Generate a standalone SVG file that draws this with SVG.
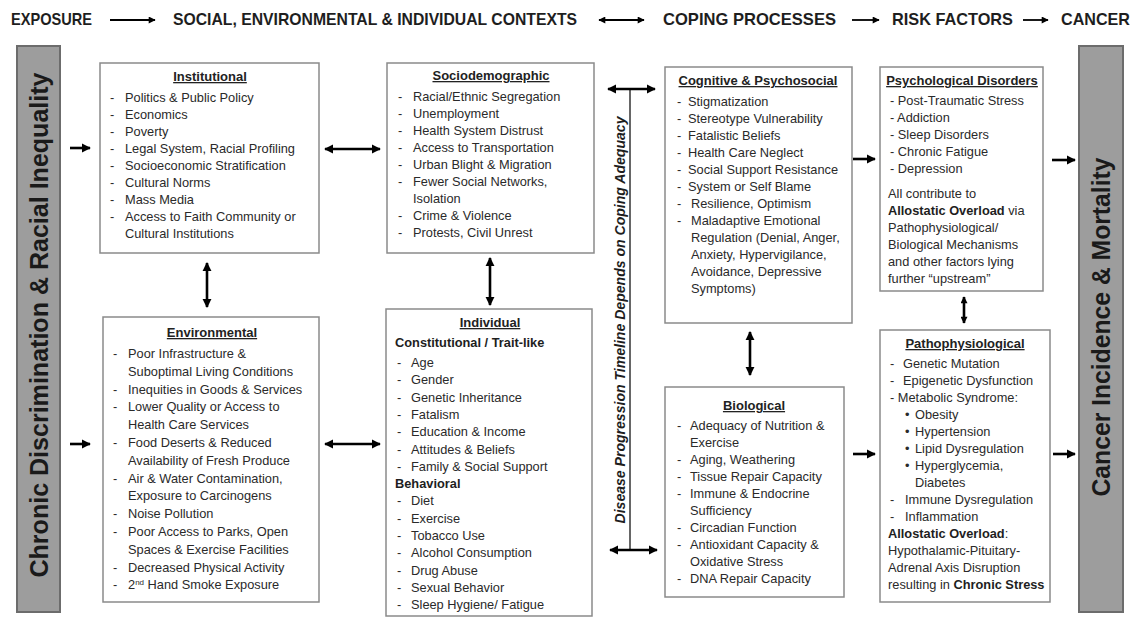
<svg xmlns="http://www.w3.org/2000/svg" width="1142" height="618" viewBox="0 0 1142 618" xml:space="preserve">
<style>
text{font-family:"Liberation Sans",Arial,sans-serif;font-size:12.8px;fill:#2a2a2a}
.h{font-weight:bold;text-decoration:underline;text-anchor:middle;font-size:13px;fill:#222}
.b{font-weight:bold;fill:#1e1e1e}
.hd{font-weight:bold;font-size:17px;fill:#1e1e1e}
.box{fill:#fff;stroke:#8a8a8a;stroke-width:1.5}
.bar{fill:#9d9d9d;stroke:#6c6c6c;stroke-width:2}
.bt{font-weight:bold;font-size:25px;text-anchor:middle;fill:#1a1a1a}
.tl{font-weight:bold;font-style:italic;font-size:14px;text-anchor:middle;fill:#1e1e1e}
.c{stroke:#000;stroke-width:2.6;fill:none}
.ch{stroke:#000;stroke-width:1.8;fill:none}
</style>
<defs>
<marker id="a" viewBox="0 0 10 10" refX="9" refY="5" markerUnits="userSpaceOnUse" markerWidth="9" markerHeight="10" orient="auto-start-reverse"><path d="M0,0 L10,5 L0,10 z" fill="#000"/></marker>
<marker id="s" viewBox="0 0 10 10" refX="9" refY="5" markerUnits="userSpaceOnUse" markerWidth="8" markerHeight="7" orient="auto-start-reverse"><path d="M0,0 L10,5 L0,10 z" fill="#000"/></marker>
</defs>
<rect width="1142" height="618" fill="#fff"/>

<g id="header">
<text class="hd" x="11" y="24.5" textLength="81" lengthAdjust="spacingAndGlyphs">EXPOSURE</text>
<text class="hd" x="173" y="24.5" textLength="404" lengthAdjust="spacingAndGlyphs">SOCIAL, ENVIRONMENTAL &amp; INDIVIDUAL CONTEXTS</text>
<text class="hd" x="663" y="24.5" textLength="173" lengthAdjust="spacingAndGlyphs">COPING PROCESSES</text>
<text class="hd" x="892" y="24.5" textLength="121" lengthAdjust="spacingAndGlyphs">RISK FACTORS</text>
<text class="hd" x="1061" y="24.5" textLength="69" lengthAdjust="spacingAndGlyphs">CANCER</text>
</g>

<g id="left-bar">
<rect class="bar" x="17" y="46" width="43" height="566"/>
<text class="bt" transform="translate(48,325) rotate(-90)" textLength="505" lengthAdjust="spacingAndGlyphs">Chronic Discrimination &amp; Racial Inequality</text>
</g>

<g id="right-bar">
<rect class="bar" x="1079" y="46" width="44" height="566"/>
<text class="bt" transform="translate(1110,327) rotate(-90)" textLength="339" lengthAdjust="spacingAndGlyphs">Cancer Incidence &amp; Mortality</text>
</g>

<g id="institutional">
<rect class="box" x="100" y="63" width="219" height="190"/>
<text class="h" x="210" y="81">Institutional</text>
<text x="110" y="102">-</text><text x="125" y="102">Politics &amp; Public Policy</text>
<text x="110" y="119">-</text><text x="125" y="119">Economics</text>
<text x="110" y="136">-</text><text x="125" y="136">Poverty</text>
<text x="110" y="153">-</text><text x="125" y="153">Legal System, Racial Profiling</text>
<text x="110" y="170">-</text><text x="125" y="170">Socioeconomic Stratification</text>
<text x="110" y="187">-</text><text x="125" y="187">Cultural Norms</text>
<text x="110" y="204">-</text><text x="125" y="204">Mass Media</text>
<text x="110" y="221">-</text><text x="125" y="221">Access to Faith Community or</text>
<text x="125" y="238">Cultural Institutions</text>
</g>

<g id="sociodemographic">
<rect class="box" x="387" y="63" width="207" height="190"/>
<text class="h" x="491" y="80">Sociodemographic</text>
<text x="398" y="101">-</text><text x="413" y="101">Racial/Ethnic Segregation</text>
<text x="398" y="118">-</text><text x="413" y="118">Unemployment</text>
<text x="398" y="135">-</text><text x="413" y="135">Health System Distrust</text>
<text x="398" y="152">-</text><text x="413" y="152">Access to Transportation</text>
<text x="398" y="169">-</text><text x="413" y="169">Urban Blight &amp; Migration</text>
<text x="398" y="186">-</text><text x="413" y="186">Fewer Social Networks,</text>
<text x="413" y="203">Isolation</text>
<text x="398" y="220">-</text><text x="413" y="220">Crime &amp; Violence</text>
<text x="398" y="237">-</text><text x="413" y="237">Protests, Civil Unrest</text>
</g>

<g id="cognitive-psychosocial">
<rect class="box" x="665" y="67" width="187" height="256"/>
<text class="h" x="758" y="85">Cognitive &amp; Psychosocial</text>
<text x="677" y="106">-</text><text x="688" y="106">Stigmatization</text>
<text x="677" y="123">-</text><text x="688" y="123">Stereotype Vulnerability</text>
<text x="677" y="140">-</text><text x="688" y="140">Fatalistic Beliefs</text>
<text x="677" y="157">-</text><text x="688" y="157">Health Care Neglect</text>
<text x="677" y="174">-</text><text x="688" y="174">Social Support Resistance</text>
<text x="677" y="191">-</text><text x="688" y="191">System or Self Blame</text>
<text x="677" y="208">-</text><text x="691" y="208">Resilience, Optimism</text>
<text x="677" y="225">-</text><text x="691" y="225">Maladaptive Emotional</text>
<text x="691" y="242">Regulation (Denial,  Anger,</text>
<text x="691" y="259">Anxiety, Hypervigilance,</text>
<text x="691" y="276">Avoidance, Depressive</text>
<text x="691" y="293">Symptoms)</text>
</g>

<g id="psychological-disorders">
<rect class="box" x="880" y="67" width="163" height="224"/>
<text class="h" x="962" y="85">Psychological Disorders</text>
<text x="890" y="105">- Post-Traumatic Stress</text>
<text x="890" y="122">- Addiction</text>
<text x="890" y="139">- Sleep Disorders</text>
<text x="890" y="156">- Chronic Fatigue</text>
<text x="890" y="173">- Depression</text>
<text x="888" y="198">All contribute to</text>
<text x="888" y="215"><tspan class="b">Allostatic Overload</tspan> via</text>
<text x="888" y="232">Pathophysiological/</text>
<text x="888" y="249">Biological Mechanisms</text>
<text x="888" y="266">and other factors lying</text>
<text x="888" y="283">further “upstream”</text>
</g>

<g id="environmental">
<rect class="box" x="103" y="317" width="216" height="285"/>
<text class="h" x="212" y="337">Environmental</text>
<text x="113" y="358">-</text><text x="128" y="358">Poor Infrastructure &amp;</text>
<text x="128" y="375.8">Suboptimal Living Conditions</text>
<text x="113" y="393.6">-</text><text x="128" y="393.6">Inequities in Goods &amp; Services</text>
<text x="113" y="411.4">-</text><text x="128" y="411.4">Lower Quality or Access to</text>
<text x="128" y="429.2">Health Care Services</text>
<text x="113" y="447">-</text><text x="128" y="447">Food Deserts &amp; Reduced</text>
<text x="128" y="464.8">Availability of Fresh Produce</text>
<text x="113" y="482.6">-</text><text x="128" y="482.6">Air &amp; Water Contamination,</text>
<text x="128" y="500.4">Exposure to Carcinogens</text>
<text x="113" y="518.2">-</text><text x="128" y="518.2">Noise Pollution</text>
<text x="113" y="536">-</text><text x="128" y="536">Poor Access to Parks, Open</text>
<text x="128" y="553.8">Spaces &amp; Exercise Facilities</text>
<text x="113" y="571.6">-</text><text x="128" y="571.6">Decreased Physical Activity</text>
<text x="113" y="589.4">-</text><text x="128" y="589.4">2<tspan font-size="8" dy="-4.5">nd</tspan><tspan dy="4.5"> Hand Smoke Exposure</tspan></text>
</g>

<g id="individual">
<rect class="box" x="386" y="309" width="206" height="307"/>
<text class="h" x="490" y="327">Individual</text>
<text class="b" x="395" y="347" font-size="13">Constitutional / Trait-like</text>
<text x="397" y="367">-</text><text x="411" y="367">Age</text>
<text x="397" y="384.3">-</text><text x="411" y="384.3">Gender</text>
<text x="397" y="401.6">-</text><text x="411" y="401.6">Genetic Inheritance</text>
<text x="397" y="418.9">-</text><text x="411" y="418.9">Fatalism</text>
<text x="397" y="436.2">-</text><text x="411" y="436.2">Education &amp; Income</text>
<text x="397" y="453.5">-</text><text x="411" y="453.5">Attitudes &amp; Beliefs</text>
<text x="397" y="470.8">-</text><text x="411" y="470.8">Family &amp; Social Support</text>
<text class="b" x="395" y="488.1" font-size="13">Behavioral</text>
<text x="397" y="505.4">-</text><text x="411" y="505.4">Diet</text>
<text x="397" y="522.7">-</text><text x="411" y="522.7">Exercise</text>
<text x="397" y="540">-</text><text x="411" y="540">Tobacco Use</text>
<text x="397" y="557.3">-</text><text x="411" y="557.3">Alcohol Consumption</text>
<text x="397" y="574.6">-</text><text x="411" y="574.6">Drug Abuse</text>
<text x="397" y="591.9">-</text><text x="411" y="591.9">Sexual Behavior</text>
<text x="397" y="609.2">-</text><text x="411" y="609.2">Sleep Hygiene/ Fatigue</text>
</g>

<g id="biological">
<rect class="box" x="665" y="387" width="179" height="210"/>
<text class="h" x="754" y="410">Biological</text>
<text x="677" y="430">-</text><text x="690" y="430">Adequacy of Nutrition &amp;</text>
<text x="690" y="447">Exercise</text>
<text x="677" y="464">-</text><text x="690" y="464">Aging, Weathering</text>
<text x="677" y="481">-</text><text x="690" y="481">Tissue Repair Capacity</text>
<text x="677" y="498">-</text><text x="690" y="498">Immune &amp; Endocrine</text>
<text x="690" y="515">Sufficiency</text>
<text x="677" y="532">-</text><text x="690" y="532">Circadian Function</text>
<text x="677" y="549">-</text><text x="690" y="549">Antioxidant Capacity &amp;</text>
<text x="690" y="566">Oxidative Stress</text>
<text x="677" y="583">-</text><text x="690" y="583">DNA Repair Capacity</text>
</g>

<g id="pathophysiological">
<rect class="box" x="880" y="330" width="170" height="272"/>
<text class="h" x="965" y="348">Pathophysiological</text>
<text x="890" y="368">-</text><text x="903" y="368">Genetic Mutation</text>
<text x="890" y="385">-</text><text x="903" y="385">Epigenetic Dysfunction</text>
<text x="890" y="402">- Metabolic Syndrome:</text>
<text x="905" y="419">•</text><text x="915" y="419">Obesity</text>
<text x="905" y="436">•</text><text x="915" y="436">Hypertension</text>
<text x="905" y="453">•</text><text x="915" y="453">Lipid Dysregulation</text>
<text x="905" y="470">•</text><text x="915" y="470">Hyperglycemia,</text>
<text x="915" y="487">Diabetes</text>
<text x="890" y="504">-</text><text x="905" y="504">Immune Dysregulation</text>
<text x="890" y="521">-</text><text x="905" y="521">Inflammation</text>
<text x="888" y="538"><tspan class="b">Allostatic Overload</tspan>:</text>
<text x="888" y="555">Hypothalamic-Pituitary-</text>
<text x="888" y="572">Adrenal Axis Disruption</text>
<text x="888" y="589">resulting in <tspan class="b">Chronic Stress</tspan></text>
</g>

<g id="timeline">
<text class="tl" transform="translate(625,320) rotate(-90)" textLength="407" lengthAdjust="spacingAndGlyphs">Disease  Progression Timeline Depends on Coping Adequacy</text>
</g>

<g id="connectors">
<path class="ch" d="M110,20 H155" marker-end="url(#s)"/>
<path class="ch" d="M599,20 H644" marker-start="url(#s)" marker-end="url(#s)"/>
<path class="ch" d="M852,20 H879" marker-end="url(#s)"/>
<path class="ch" d="M1023,20 H1048" marker-end="url(#s)"/>
<path class="c" d="M70,148 H90" marker-end="url(#a)"/>
<path class="c" d="M70,444 H90" marker-end="url(#a)"/>
<path class="c" d="M325,149 H380" marker-start="url(#a)" marker-end="url(#a)"/>
<path class="c" d="M325,444 H380" marker-start="url(#a)" marker-end="url(#a)"/>
<path class="c" d="M207,263 V307" marker-start="url(#a)" marker-end="url(#a)"/>
<path class="c" d="M490,258 V305" marker-start="url(#a)" marker-end="url(#a)"/>
<path d="M630,89 V550" stroke="#333" stroke-width="1.5" fill="none"/>
<path class="c" d="M608,89 H655" marker-start="url(#a)" marker-end="url(#a)"/>
<path class="c" d="M610,550 H657" marker-start="url(#a)" marker-end="url(#a)"/>
<path class="c" d="M750,332 V375" marker-start="url(#a)" marker-end="url(#a)"/>
<path class="c" d="M853,159 H875" marker-end="url(#a)"/>
<path class="c" d="M1052,160 H1075" marker-end="url(#a)"/>
<path class="c" d="M964,297 V323" marker-start="url(#s)" marker-end="url(#s)"/>
<path class="c" d="M853,454 H875" marker-end="url(#a)"/>
<path class="c" d="M1053,454 H1075" marker-end="url(#a)"/>
</g>
</svg>
